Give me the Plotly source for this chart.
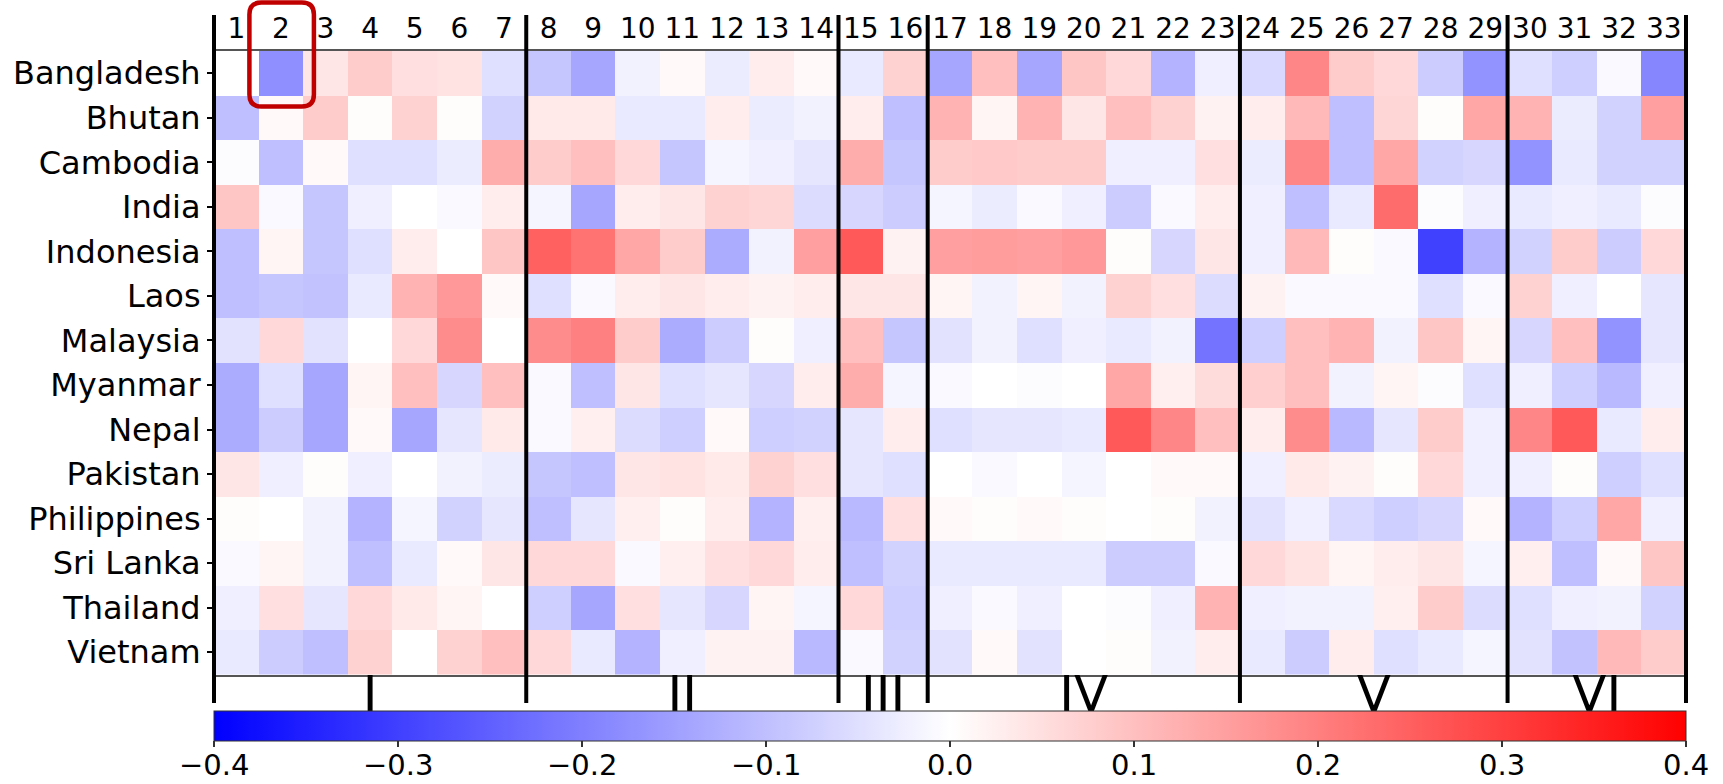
import plotly.graph_objects as go

# ---------------- data ----------------
countries = ["Bangladesh", "Bhutan", "Cambodia", "India", "Indonesia", "Laos", "Malaysia",
             "Myanmar", "Nepal", "Pakistan", "Philippines", "Sri Lanka", "Thailand", "Vietnam"]
columns = list(range(1, 34))
col_labels = [str(c) for c in columns]
group_names = ["I", "II", "III", "IV", "V", "VI"]
group_sizes = [7, 7, 2, 7, 6, 4]
cbar_ticks = [-0.4, -0.3, -0.2, -0.1, 0.0, 0.1, 0.2, 0.3, 0.4]
cbar_ticktext = ["\u22120.4", "\u22120.3", "\u22120.2", "\u22120.1", "0.0", "0.1", "0.2", "0.3", "0.4"]
highlight_country = "Bangladesh"
highlight_col = 2

bangladesh = [0, -0.175, 0.04, 0.08, 0.05, 0.045, -0.05, -0.09, -0.14, -0.02, 0.01, -0.03, 0.03, 0.01,
              -0.035, 0.07, -0.14, 0.1, -0.14, 0.09, 0.06, -0.12, -0.025, -0.06, 0.19, 0.08, 0.06, -0.08,
              -0.17, -0.05, -0.075, -0.01, -0.19]
bhutan = [-0.1, 0.01, 0.08, 0.005, 0.07, 0.005, -0.07, 0.035, 0.035, -0.035, -0.035, 0.03, -0.03, -0.02,
          0.03, -0.1, 0.12, 0.015, 0.12, 0.04, 0.1, 0.07, 0.02, 0.03, 0.11, -0.1, 0.065, 0.005, 0.14,
          0.12, -0.03, -0.07, 0.15]
cambodia = [-0.005, -0.1, 0.01, -0.05, -0.05, -0.03, 0.13, 0.08, 0.1, 0.06, -0.09, -0.015, -0.025, -0.04,
            0.13, -0.09, 0.08, 0.085, 0.08, 0.08, -0.025, -0.025, 0.05, -0.03, 0.19, -0.1, 0.14, -0.07,
            -0.065, -0.17, -0.035, -0.07, -0.07]
india = [0.09, -0.01, -0.09, -0.025, 0, -0.01, 0.03, -0.015, -0.14, 0.03, 0.04, 0.07, 0.065, -0.055,
         -0.065, -0.08, -0.015, -0.03, -0.01, -0.025, -0.08, -0.01, 0.03, -0.025, -0.1, -0.035, 0.23,
         -0.005, -0.025, -0.035, -0.025, -0.035, -0.005]
indonesia = [-0.1, 0.015, -0.09, -0.05, 0.03, 0, 0.09, 0.25, 0.22, 0.14, 0.08, -0.13, -0.02, 0.15,
             0.26, 0.02, 0.15, 0.155, 0.15, 0.16, 0.005, -0.065, 0.04, -0.025, 0.11, 0.005, -0.01, -0.3,
             -0.12, -0.07, 0.08, -0.08, 0.06]
laos = [-0.1, -0.09, -0.095, -0.035, 0.12, 0.16, 0.01, -0.05, -0.01, 0.03, 0.04, 0.03, 0.02, 0.03,
        0.04, 0.04, 0.015, -0.02, 0.015, -0.02, 0.07, 0.05, -0.055, 0.02, -0.01, -0.01, -0.01, -0.05,
        -0.01, 0.07, -0.025, 0, -0.04]
malaysia = [-0.045, 0.06, -0.045, 0, 0.06, 0.18, 0, 0.18, 0.2, 0.08, -0.13, -0.08, 0.005, -0.025,
            0.1, -0.09, -0.045, -0.02, -0.05, -0.025, -0.035, -0.02, -0.22, -0.075, 0.1, 0.12, -0.02,
            0.09, 0.015, -0.065, 0.1, -0.17, -0.04]
myanmar = [-0.13, -0.05, -0.14, 0.015, 0.1, -0.065, 0.1, -0.01, -0.1, 0.04, -0.05, -0.04, -0.065, 0.03,
           0.13, -0.015, -0.01, 0, -0.005, 0, 0.14, 0.025, 0.055, 0.075, 0.1, -0.02, 0.015, -0.005,
           -0.05, -0.025, -0.075, -0.11, -0.025]
nepal = [-0.13, -0.08, -0.14, 0.01, -0.14, -0.04, 0.035, -0.01, 0.025, -0.055, -0.075, 0.01, -0.075, -0.07,
         -0.04, 0.03, -0.05, -0.04, -0.04, -0.035, 0.26, 0.19, 0.1, 0.03, 0.18, -0.11, -0.04, 0.08,
         -0.025, 0.19, 0.26, -0.035, 0.03]
pakistan = [0.04, -0.025, 0.005, -0.025, 0, -0.02, -0.03, -0.09, -0.1, 0.04, 0.045, 0.035, 0.07, 0.05,
            -0.04, -0.05, 0, -0.01, 0, -0.015, 0, 0.01, 0.01, -0.025, 0.035, 0.02, 0.005, 0.06,
            -0.025, -0.025, 0.005, -0.075, -0.05]
philippines = [0.005, 0, -0.02, -0.12, -0.015, -0.07, -0.04, -0.1, -0.04, 0.025, 0.005, 0.03, -0.12, 0.025,
               -0.11, 0.05, 0.01, 0.005, 0.01, 0.005, 0, 0.005, -0.02, -0.045, -0.025, -0.06, -0.075,
               -0.065, 0.01, -0.12, -0.075, 0.14, -0.025]
sri_lanka = [-0.01, 0.015, -0.02, -0.1, -0.035, 0.01, 0.04, 0.06, 0.06, -0.01, 0.025, 0.05, 0.06, 0.03,
             -0.1, -0.07, -0.035, -0.035, -0.035, -0.035, -0.08, -0.08, -0.01, 0.06, 0.045, 0.015, 0.03,
             0.04, -0.015, 0.025, -0.1, 0.01, 0.09]
thailand = [-0.025, 0.05, -0.04, 0.06, 0.035, 0.015, 0, -0.075, -0.14, 0.05, -0.04, -0.065, 0.015, -0.015,
            0.06, -0.075, -0.025, -0.01, -0.025, 0, -0.005, -0.025, 0.12, -0.025, -0.02, -0.02, 0.025,
            0.08, -0.055, -0.05, -0.025, -0.02, -0.07]
vietnam = [-0.035, -0.08, -0.1, 0.07, 0, 0.07, 0.1, 0.06, -0.035, -0.12, -0.025, 0.02, 0.02, -0.11,
           -0.01, -0.07, -0.045, 0.01, -0.045, 0, 0.005, -0.02, 0.03, -0.035, -0.08, 0.03, -0.05, -0.035,
           -0.015, -0.045, -0.095, 0.11, 0.08]

values = [bangladesh, bhutan, cambodia, india, indonesia, laos, malaysia,
          myanmar, nepal, pakistan, philippines, sri_lanka, thailand, vietnam]

# ---------------- layout constants (pixels) ----------------
W, H = 1723, 784
PL, PR = 214, 1686          # heatmap left / right
PT, PB = 10, 711            # overall plotting region (top / bottom)
HM_TOP, HM_BOT = 51, 674.5  # heatmap top / bottom
LINE_TOP, LINE_BOT = 15, 703
CB_LABEL_Y = 765            # centre of colour-bar tick labels
FONT = "DejaVu Sans"
ZMIN, ZMAX = -0.4, 0.4


def py(p):
    return (PB - p) / (PB - PT)


def pxx(p):
    return (p - PL) / (PR - PL)


bwr = [[0.0, "rgb(0,0,255)"], [0.5, "rgb(255,255,255)"], [1.0, "rgb(255,0,0)"]]

fig = go.Figure()
fig.add_trace(go.Heatmap(
    z=values, x=columns, y=countries,
    colorscale=bwr, zmin=ZMIN, zmax=ZMAX,
    xaxis="x", yaxis="y",
    colorbar=dict(
        orientation="h", x=0.5, xanchor="center", y=0, yanchor="top",
        len=1.0, lenmode="fraction", thickness=30, thicknessmode="pixels",
        xpad=0, ypad=0, outlinewidth=1, outlinecolor="#333333",
        tickvals=cbar_ticks, showticklabels=False,
        ticks="outside", ticklen=6, tickwidth=1.5, tickcolor="#333333",
    ),
    hoverongaps=False,
))

# group labels (roman numerals), clipped to the band between heatmap and colour bar
starts = []
s = 1
for g in group_sizes:
    starts.append(s)
    s += g
centers = [st + (g - 1) / 2 for st, g in zip(starts, group_sizes)]
ROMAN_FS = 50
band_h = PB - HM_BOT
text_y = (0.25 * ROMAN_FS) / band_h   # puts the baseline on the band's bottom edge
fig.add_trace(go.Scatter(
    x=centers, y=[text_y] * len(centers), text=group_names, mode="text",
    textposition="middle center",
    textfont=dict(size=ROMAN_FS, family=FONT, color="black"),
    xaxis="x2", yaxis="y2", cliponaxis=True, hoverinfo="skip", showlegend=False,
))

shapes = []
# group boundary lines
bounds = [0]
for g in group_sizes:
    bounds.append(bounds[-1] + g)
for b in bounds:
    xp = b / len(columns)
    shapes.append(dict(type="line", xref="paper", yref="paper",
                       x0=xp, x1=xp, y0=py(LINE_BOT), y1=py(LINE_TOP),
                       line=dict(color="black", width=4), layer="above"))

# red rounded highlight box
cell_w = (PR - PL) / len(columns)
cell_h = (HM_BOT - HM_TOP) / len(countries)
cx = PL + (highlight_col - 0.5) * cell_w
row_i = countries.index(highlight_country)
bx0, bx1 = pxx(cx - 31.5), pxx(cx + 33)
by1 = py(2.5)
by0 = py(HM_TOP + (row_i + 1) * cell_h + 11)
R = 12
rx, ry = R / (PR - PL), R / (PB - PT)
path = (f"M {bx0+rx},{by1} L {bx1-rx},{by1} Q {bx1},{by1} {bx1},{by1-ry} "
        f"L {bx1},{by0+ry} Q {bx1},{by0} {bx1-rx},{by0} "
        f"L {bx0+rx},{by0} Q {bx0},{by0} {bx0},{by0+ry} "
        f"L {bx0},{by1-ry} Q {bx0},{by1} {bx0+rx},{by1} Z")
shapes.append(dict(type="path", xref="paper", yref="paper", path=path,
                   line=dict(color="#C00000", width=4.5), layer="above"))

# colour-bar tick labels (placed explicitly so they stay inside the page)
annotations = []
for v, t in zip(cbar_ticks, cbar_ticktext):
    annotations.append(dict(
        x=(v - ZMIN) / (ZMAX - ZMIN), y=py(CB_LABEL_Y), xref="paper", yref="paper",
        text=t, showarrow=False, xanchor="center", yanchor="middle",
        font=dict(size=29, family=FONT, color="black"), borderpad=0,
    ))

fig.update_layout(
    width=W, height=H,
    margin=dict(l=PL, r=W - PR, t=PT, b=H - PB, pad=0, autoexpand=False),
    paper_bgcolor="white", plot_bgcolor="white",
    font=dict(family=FONT, color="black"),
    showlegend=False,
    xaxis=dict(domain=[0, 1], range=[0.5, 33.5], side="top", anchor="y",
               tickmode="array", tickvals=columns, ticktext=col_labels,
               ticks="", tickfont=dict(size=28, family=FONT, color="black"),
               showline=True, mirror=True, linecolor="#555555", linewidth=2,
               showgrid=False, zeroline=False, fixedrange=True),
    yaxis=dict(domain=[py(HM_BOT), py(HM_TOP)], anchor="x", autorange="reversed",
               ticks="outside", ticklen=6, tickwidth=2, tickcolor="black",
               tickfont=dict(size=32, family=FONT, color="black"),
               showline=False, showgrid=False, zeroline=False, fixedrange=True),
    xaxis2=dict(domain=[0, 1], range=[0.5, 33.5], anchor="y2", visible=False, fixedrange=True),
    yaxis2=dict(domain=[0, py(HM_BOT)], range=[0, 1], anchor="x2", visible=False, fixedrange=True),
    shapes=shapes,
    annotations=annotations,
)

fig.write_html("out.html")
